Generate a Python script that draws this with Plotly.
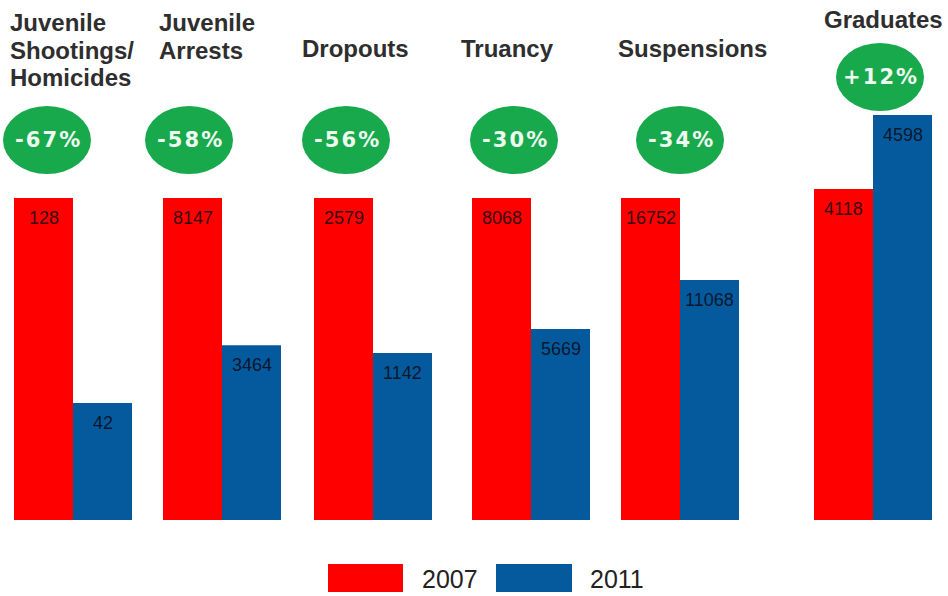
import plotly.graph_objects as go

# ---------------- data ----------------
categories = ["Juvenile<br>Shootings/<br>Homicides", "Juvenile<br>Arrests", "Dropouts",
              "Truancy", "Suspensions", "Graduates"]
values_2007 = [128, 8147, 2579, 8068, 16752, 4118]
values_2011 = [42, 3464, 1142, 5669, 11068, 4598]
change_labels = ["-67%", "-58%", "-56%", "-30%", "-34%", "+12%"]
# bar heights as drawn in the picture (index, 2007 bar of first groups = 100)
bar_index_2007 = [100, 100, 100, 100, 100, 102.8]
bar_index_2011 = [36.3, 54.3, 51.9, 59.3, 74.5, 125.8]
series_names = ["2007", "2011"]

# ---------------- layout constants ----------------
W, H = 948, 596
RED = "#ff0000"
BLUE = "#055a9e"
GREEN = "#19a94d"
group_x = [73, 222, 373, 531, 680, 873]          # px, boundary between the two bars
bar_w = 59
badge_x = [47, 189, 346, 514, 680, 880]
badge_y = [140, 140, 140, 140, 140, 77]
header_x = [8, 157, 300, 459, 616, 822]
header_y = [22, 22, 48, 48, 48, 20]
line_step = 28

baseline_px, top100_px = 520, 198
scale = (baseline_px - top100_px) / 100.0
y_range = [-(H - baseline_px) / scale, baseline_px / scale]


def py(p):
    return 1 - p / H


fig = go.Figure()
fig.add_trace(go.Bar(x=group_x, y=bar_index_2007, width=bar_w, offset=-bar_w,
                     marker=dict(color=RED, line=dict(width=0)), name=series_names[0],
                     hoverinfo="skip"))
fig.add_trace(go.Bar(x=group_x, y=bar_index_2011, width=bar_w, offset=0,
                     marker=dict(color=BLUE, line=dict(width=0)), name=series_names[1],
                     hoverinfo="skip"))

annotations = []
label_font = dict(family="Liberation Sans, Arial", size=18, color="rgba(10,10,20,0.85)")
for gx, h7, h11, v7, v11 in zip(group_x, bar_index_2007, bar_index_2011, values_2007, values_2011):
    annotations.append(dict(x=gx - bar_w / 2, y=h7, xref="x", yref="y", text=str(v7),
                            showarrow=False, yshift=-20, yanchor="middle", font=label_font))
    annotations.append(dict(x=gx + bar_w / 2, y=h11, xref="x", yref="y", text=str(v11),
                            showarrow=False, yshift=-20, yanchor="middle", font=label_font))

# headers
for cat, hx, hy in zip(categories, header_x, header_y):
    for i, line in enumerate(cat.split("<br>")):
        annotations.append(dict(x=hx / W, y=py(hy + i * line_step), xref="paper", yref="paper",
                                text=line, showarrow=False, xanchor="left", yanchor="middle",
                                font=dict(family="Liberation Sans, Arial", size=24,
                                          color="#2e2e2e", weight="bold")))

shapes = []
# badges
for lbl, bx, by in zip(change_labels, badge_x, badge_y):
    shapes.append(dict(type="circle", xref="paper", yref="paper",
                       x0=(bx - 44) / W, x1=(bx + 44) / W,
                       y0=py(by + 34), y1=py(by - 34),
                       fillcolor=GREEN, line=dict(width=0), layer="above"))
    annotations.append(dict(x=bx / W, y=py(by), xref="paper", yref="paper",
                            text="\u200a".join(lbl), showarrow=False,
                            xanchor="center", yanchor="middle",
                            font=dict(family="DejaVu Sans", size=21, color="#eefaf0",
                                      weight="bold")))

# legend drawn manually (large swatches)
legend_items = [(series_names[0], RED, 328, 403, 420), (series_names[1], BLUE, 496, 572, 588)]
for name, col, x0, x1, tx in legend_items:
    shapes.append(dict(type="rect", xref="paper", yref="paper",
                       x0=x0 / W, x1=x1 / W, y0=py(592), y1=py(564),
                       fillcolor=col, line=dict(width=0)))
    annotations.append(dict(x=tx / W, y=py(579), xref="paper", yref="paper", text=name,
                            showarrow=False, xanchor="left", yanchor="middle",
                            font=dict(family="Liberation Sans, Arial", size=25, color="#222")))

fig.update_layout(
    width=W, height=H, autosize=False,
    margin=dict(l=0, r=0, t=0, b=0),
    paper_bgcolor="white", plot_bgcolor="white",
    barmode="overlay", showlegend=False,
    xaxis=dict(range=[0, W], visible=False, fixedrange=True),
    yaxis=dict(range=y_range, visible=False, fixedrange=True),
    annotations=annotations, shapes=shapes,
)

fig.write_html("out.html", config={"displayModeBar": False},
               post_script="document.body.style.margin='0';document.body.style.overflow='hidden';")
